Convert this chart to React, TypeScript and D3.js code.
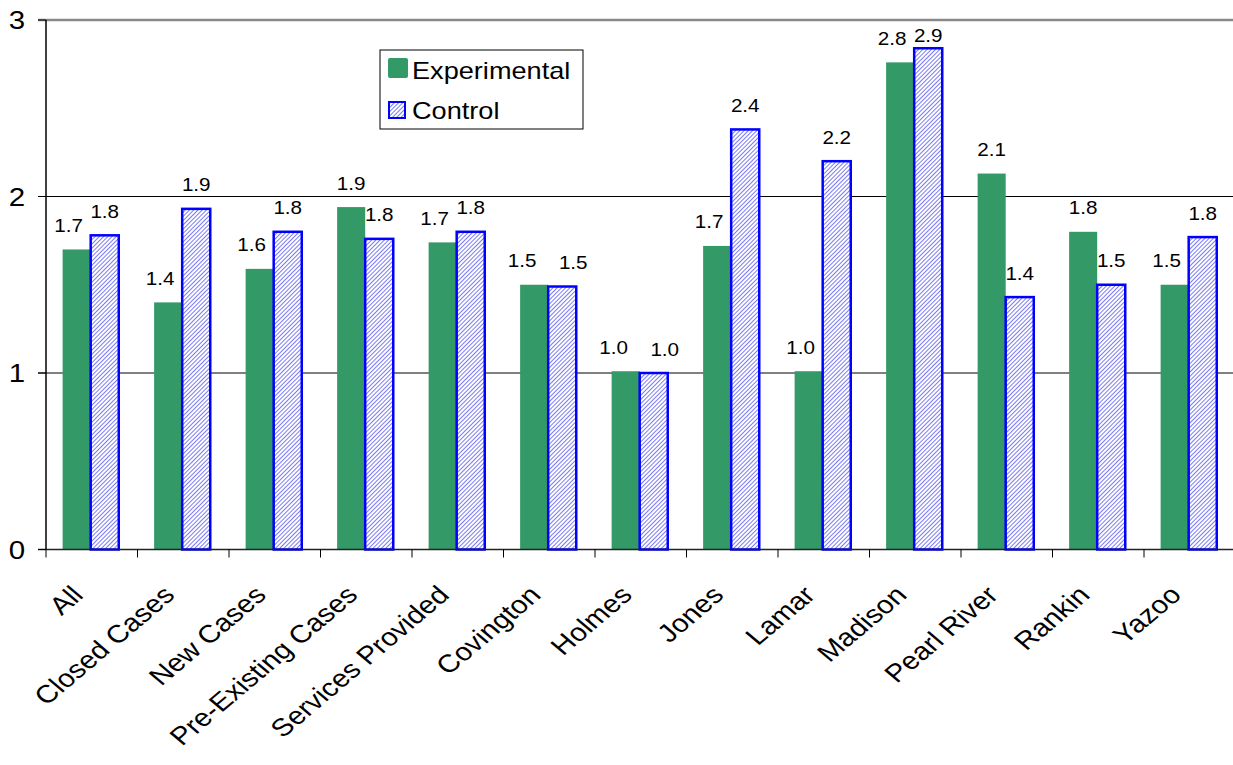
import React from "react";
import * as d3 from "d3";

const categories = [
  "All",
  "Closed Cases",
  "New Cases",
  "Pre-Existing Cases",
  "Services Provided",
  "Covington",
  "Holmes",
  "Jones",
  "Lamar",
  "Madison",
  "Pearl River",
  "Rankin",
  "Yazoo",
];
const experimental = [1.7, 1.4, 1.59, 1.94, 1.74, 1.5, 1.01, 1.72, 1.01, 2.76, 2.13, 1.8, 1.5];
const control = [1.78, 1.93, 1.8, 1.76, 1.8, 1.49, 1.0, 2.38, 2.2, 2.84, 1.43, 1.5, 1.77];
const experimentalLabels = ["1.7", "1.4", "1.6", "1.9", "1.7", "1.5", "1.0", "1.7", "1.0", "2.8", "2.1", "1.8", "1.5"];
const controlLabels = ["1.8", "1.9", "1.8", "1.8", "1.8", "1.5", "1.0", "2.4", "2.2", "2.9", "1.4", "1.5", "1.8"];
const yTicks = [0, 1, 2, 3];

const W = 1233;
const H = 765;
const left = 46;
const top = 20;
const bottom = 549.5;
const right = 1235.5;
const SX = 1.18; // horizontal stretch of the original picture's text

export default function App() {
  const x = d3.scaleBand<string>().domain(categories).range([left, right]);
  const y = d3.scaleLinear().domain([0, 3]).range([bottom, top]);
  const inner = d3
    .scaleBand<string>()
    .domain(["exp", "ctl"])
    .range([0, x.bandwidth()])
    .paddingInner(0)
    .paddingOuter(0.63)
    .align(0.47);
  const bw = inner.bandwidth();
  const font = "Liberation Sans, Arial, sans-serif";

  const label = (key: string, px: number, py: number, txt: string, size: number, anchor = "middle", rot = 0) => (
    <text
      key={key}
      transform={`translate(${px},${py}) scale(${SX},1)${rot ? ` rotate(${rot})` : ""}`}
      textAnchor={anchor}
      fontSize={size}
      fill="#000"
    >
      {txt}
    </text>
  );

  return (
    <svg
      width={W}
      height={H}
      style={{ position: "absolute", left: 0, top: 0, background: "#fff" }}
      fontFamily={font}
    >
      <defs>
        <pattern id="hatch" width="3" height="3" patternUnits="userSpaceOnUse" patternTransform="rotate(45)">
          <rect width="3" height="3" fill="#ffffff" />
          <line x1="0" y1="0" x2="0" y2="3" stroke="#3333ee" strokeWidth="1.3" />
        </pattern>
      </defs>

      {/* gridlines */}
      {yTicks.slice(1).map((t) => (
        <line
          key={t}
          x1={left - 8}
          x2={W}
          y1={y(t)}
          y2={y(t)}
          stroke={t === 3 ? "#888" : "#000"}
          strokeWidth={t === 3 ? 2.5 : 1}
        />
      ))}

      {/* bars */}
      {categories.map((c, i) => {
        const ex = (x(c) ?? 0) + (inner("exp") ?? 0);
        const cx = (x(c) ?? 0) + (inner("ctl") ?? 0);
        const tie = Math.abs(experimental[i] - control[i]) < 0.015;
        const expShift = tie ? -12 : experimental[i] >= control[i] ? 0 : -8;
        const ctlShift = tie ? 11 : 0;
        return (
          <g key={c}>
            <rect x={ex} y={y(experimental[i])} width={bw} height={bottom - y(experimental[i])} fill="#339966" />
            <rect
              x={cx}
              y={y(control[i])}
              width={bw}
              height={bottom - y(control[i])}
              fill="url(#hatch)"
              stroke="#0000ff"
              strokeWidth={2.5}
            />
            {label(
              "e" + i,
              ex + bw / 2 + expShift,
              Math.max(y(experimental[i]) - 17.5, 42),
              experimentalLabels[i],
              17.5
            )}
            {label("c" + i, cx + bw / 2 + ctlShift, Math.max(y(control[i]) - 17.5, 42), controlLabels[i], 17.5)}
          </g>
        );
      })}

      {/* axes */}
      <line x1={left} x2={left} y1={top} y2={bottom} stroke="#000" strokeWidth={1.5} />
      <line x1={left - 8} x2={W} y1={bottom} y2={bottom} stroke="#222" strokeWidth={1.5} />
      {yTicks.map((t) => (
        <g key={t}>
          <line x1={left - 8} x2={left} y1={y(t)} y2={y(t)} stroke="#000" />
          {label("y" + t, 17, y(t) + 9, String(t), 25)}
        </g>
      ))}
      {categories.map((c) => (
        <line key={c} x1={x(c) ?? 0} x2={x(c) ?? 0} y1={bottom} y2={bottom + 8} stroke="#000" />
      ))}
      {categories.map((c) => label("x" + c, (x(c) ?? 0) + x.bandwidth() / 2 - 7, bottom + 47, c, 25, "end", -45))}

      {/* legend */}
      <rect x={380} y={50} width={203} height={79} fill="#fff" stroke="#000" strokeWidth={1} />
      <rect x={388} y={58} width={20} height={20} rx={2} fill="#339966" />
      {label("l1", 412, 79, "Experimental", 23, "start")}
      <rect x={389} y={102} width={16} height={16} fill="url(#hatch)" stroke="#0000ff" strokeWidth={2} />
      {label("l2", 412, 119, "Control", 23, "start")}
    </svg>
  );
}
